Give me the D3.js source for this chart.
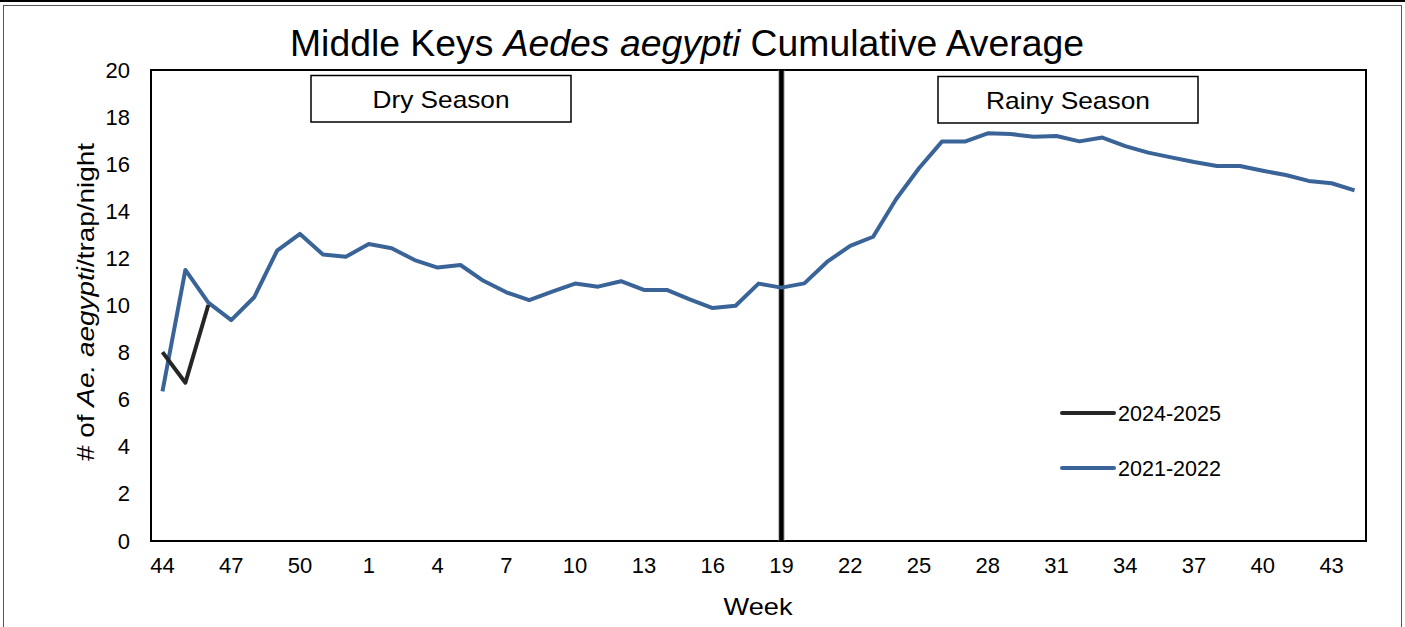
<!DOCTYPE html>
<html>
<head>
<meta charset="utf-8">
<script src="https://cdn.jsdelivr.net/npm/d3@7/dist/d3.min.js"></script>
<style>
  html, body { margin: 0; padding: 0; background: #fff; }
  svg { display: block; font-family: "Liberation Sans", Arial, sans-serif; }
</style>
</head>
<body>
<svg id="chart" width="1405" height="627"></svg>
<script>
const weeks = [44,45,46,47,48,49,50,51,52,1,2,3,4,5,6,7,8,9,10,11,12,13,14,15,16,17,18,19,20,21,22,23,24,25,26,27,28,29,30,31,32,33,34,35,36,37,38,39,40,41,42,43,44];
const series2021 = [6.35,11.51,10.12,9.38,10.35,12.33,13.04,12.17,12.07,12.61,12.43,11.93,11.61,11.72,11.05,10.56,10.23,10.59,10.93,10.80,11.03,10.66,10.66,10.26,9.89,9.99,10.93,10.76,10.94,11.86,12.53,12.92,14.51,15.83,16.96,16.96,17.31,17.28,17.17,17.20,16.97,17.13,16.77,16.49,16.29,16.09,15.92,15.92,15.72,15.54,15.29,15.19,14.89];
const series2024 = [8.02,6.72,10.02];
const yTicks = [0,2,4,6,8,10,12,14,16,18,20];
const xTickEvery = 3;
const seasonDivideIndex = 27; // week 19
const seriesNames = ["2024-2025","2021-2022"];
const seriesColors = ["#262626","#3A6498"];

const svg = d3.select("#chart");
const m = {left: 151, top: 70, right: 1366, bottom: 541};
const FONT = "Liberation Sans, Arial, sans-serif";

// outer frame
svg.append("line").attr("x1",0).attr("x2",1405).attr("y1",1).attr("y2",1).attr("stroke","#000").attr("stroke-width",2);
svg.append("rect").attr("x",3.5).attr("y",5.5).attr("width",1398).attr("height",640)
  .attr("fill","none").attr("stroke","#555").attr("stroke-width",1);

const idx = d3.range(weeks.length);
const x = d3.scaleBand().domain(idx).range([m.left, m.right]);
const xc = i => x(i) + x.bandwidth()/2;
const y = d3.scaleLinear().domain([0,20]).range([m.bottom, m.top]);

// y axis labels
const yAxis = d3.axisLeft(y).tickValues(yTicks).tickSize(0).tickPadding(21);
const gy = svg.append("g").attr("transform",`translate(${m.left},0)`).call(yAxis);
gy.select(".domain").remove();
gy.selectAll("text").attr("font-size",22).attr("fill","#000").attr("font-family",FONT);

// x axis labels
const xAxis = d3.axisBottom(x).tickValues(idx.filter(i => i % xTickEvery === 0))
  .tickFormat(i => weeks[i]).tickSize(0).tickPadding(16);
const gx = svg.append("g").attr("transform",`translate(0,${m.bottom})`).call(xAxis);
gx.select(".domain").remove();
gx.selectAll("text").attr("font-size",22).attr("fill","#000").attr("font-family",FONT);

// plot border
svg.append("rect").attr("x",m.left).attr("y",m.top).attr("width",m.right-m.left).attr("height",m.bottom-m.top)
  .attr("fill","none").attr("stroke","#000").attr("stroke-width",2);

// season divider
const xd = x(seasonDivideIndex) + x.bandwidth()/2;
svg.append("line").attr("x1",xd).attr("x2",xd).attr("y1",m.top).attr("y2",m.bottom)
  .attr("stroke","#888").attr("stroke-width",7).attr("opacity",0.5);
svg.append("line").attr("x1",xd).attr("x2",xd).attr("y1",m.top).attr("y2",m.bottom)
  .attr("stroke","#000").attr("stroke-width",4.5);

// season boxes
const boxes = [{label:"Dry Season", x0:311, x1:571, y0:75.5, y1:122, w:137},{label:"Rainy Season", x0:938, x1:1198, y0:76.5, y1:123, w:164}];
boxes.forEach(b => {
  svg.append("rect").attr("x",b.x0).attr("y",b.y0).attr("width",b.x1-b.x0).attr("height",b.y1-b.y0)
    .attr("fill","#fff").attr("stroke","#000").attr("stroke-width",1.5);
  svg.append("text").attr("x",(b.x0+b.x1)/2).attr("y",(b.y0+b.y1)/2+9).attr("text-anchor","middle")
    .attr("font-size",24).attr("textLength",b.w).attr("lengthAdjust","spacingAndGlyphs").text(b.label);
});

// lines
const line = d3.line().x((d,i) => xc(i)).y(d => y(d));
svg.append("path").datum(series2021).attr("d",line).attr("fill","none")
  .attr("stroke",seriesColors[1]).attr("stroke-width",4).attr("stroke-linejoin","round");
svg.append("path").datum(series2024).attr("d",line).attr("fill","none")
  .attr("stroke",seriesColors[0]).attr("stroke-width",4).attr("stroke-linejoin","round");

// legend
seriesNames.forEach((n,k) => {
  const ly = 413 + k*55;
  svg.append("line").attr("x1",1062).attr("x2",1114).attr("y1",ly).attr("y2",ly)
    .attr("stroke",seriesColors[k]).attr("stroke-width",4).attr("stroke-linecap","round");
  svg.append("text").attr("x",1118).attr("y",ly+8).attr("font-size",22)
    .attr("textLength",103).attr("lengthAdjust","spacingAndGlyphs").text(n);
});

// title
const t = svg.append("text").attr("x",687).attr("y",56).attr("text-anchor","middle").attr("font-size",37)
  .attr("textLength",794).attr("lengthAdjust","spacingAndGlyphs");
t.append("tspan").text("Middle Keys ");
t.append("tspan").attr("font-style","italic").text("Aedes aegypti");
t.append("tspan").text(" Cumulative Average");

// y title
const yt = svg.append("text").attr("transform","translate(94,302) rotate(-90)").attr("text-anchor","middle").attr("font-size",24)
  .attr("textLength",318).attr("lengthAdjust","spacingAndGlyphs");
yt.append("tspan").text("# of ");
yt.append("tspan").attr("font-style","italic").text("Ae. aegypti");
yt.append("tspan").text("/trap/night");

// x title
svg.append("text").attr("x",758).attr("y",615).attr("text-anchor","middle").attr("font-size",24)
  .attr("textLength",69).attr("lengthAdjust","spacingAndGlyphs").text("Week");
</script>
</body>
</html>
